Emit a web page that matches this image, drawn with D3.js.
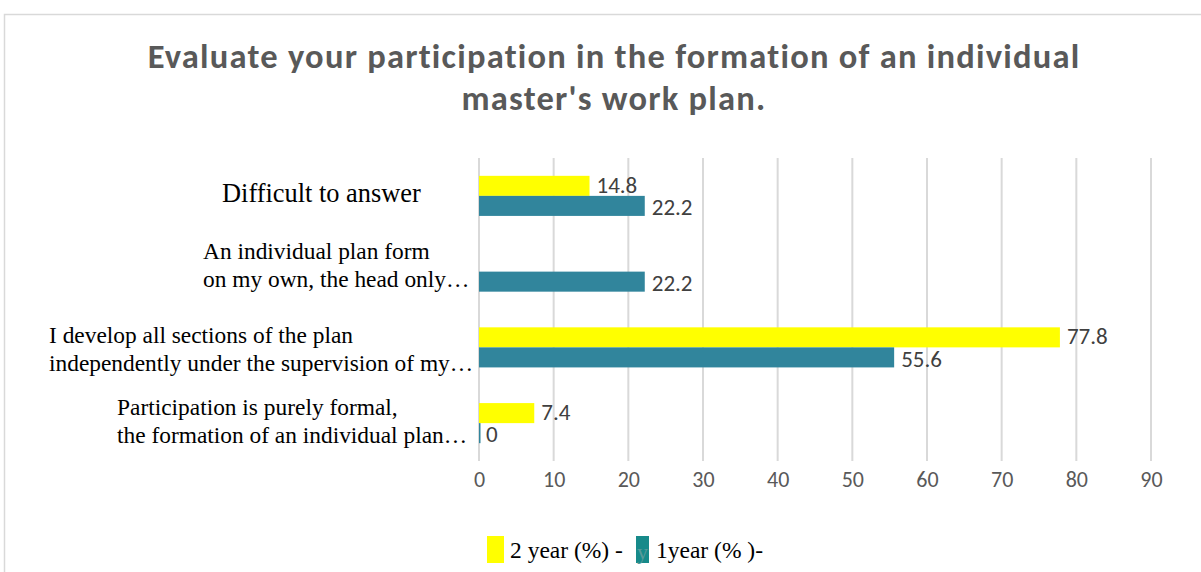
<!DOCTYPE html>
<html><head><meta charset="utf-8">
<script src="https://cdn.jsdelivr.net/npm/d3@7"></script>
<style>html,body{margin:0;padding:0;background:#fff;}svg{display:block;}</style>
</head><body>
<svg id="chart" width="1201" height="572"></svg>
<script>
// ---- data ----
const categories = [
  "Difficult to answer",
  "An individual plan form\non my own, the head only…",
  "I develop all sections of the plan\nindependently under the supervision of my…",
  "Participation is purely formal,\nthe formation of an individual plan…"
];
const year2Values = [14.8, null, 77.8, 7.4];
const year1Values = [22.2, 22.2, 55.6, 0];
const seriesNames = ["2 year (%) - ", "1year (% )-"];
const tickValues = [0, 10, 20, 30, 40, 50, 60, 70, 80, 90];
const titleLines = ["Evaluate your participation in the formation of an individual", "master's work plan."];

// ---- layout ----
const W = 1201, H = 572;
const plot = {left: 479, right: 1151, top: 158, bottom: 461};
const labelLeft = [222, 203, 49, 117];
const labelSize = [26.4, 23.4, 23.4, 23.4];
const labelBaseOffset = [6, 1, 10, 5.5];
const colors = {y2: "#FFFF00", y1: "#31859C", grid: "#d9d9d9", text: "#595959", label: "#404040"};
const sansFont = "Carlito, Lato, 'Open Sans', sans-serif";
const serifFont = "'Liberation Serif','Times New Roman',serif";

const svg = d3.select("#chart");

// frame
svg.append("path").attr("d", `M4.5,${H} L4.5,14.5 L${W},14.5`).attr("fill","none").attr("stroke","#d9d9d9").attr("stroke-width",1.5);

// title (fit to reference width with letter-spacing)
const titleWidths = [932, 305];
const titleSize = 34.5;
svg.append("g").selectAll("text").data(titleLines).join("text")
  .attr("x", 614).attr("y", (d,i)=>68 + i*42)
  .attr("text-anchor","middle")
  .attr("font-family", sansFont).attr("font-weight","bold")
  .attr("font-size", titleSize).attr("fill", colors.text).text(d=>d)
  .each(function(d,i){
    const w = this.getComputedTextLength();
    const ls = Math.max(0, (titleWidths[i] - w) / d.length);
    d3.select(this).attr("letter-spacing", ls);
  });

const x = d3.scaleLinear().domain([0, 90]).range([plot.left, plot.right]);
const y = d3.scaleBand().domain(categories).range([plot.top, plot.bottom]).paddingInner(0).paddingOuter(0);
const sub = d3.scaleBand().domain(["y2","y1"]).range([0, y.bandwidth()]).paddingInner(0).paddingOuter(0.89);

// gridlines
svg.append("g").selectAll("line").data(tickValues).join("line")
  .attr("x1", d=>x(d)).attr("x2", d=>x(d))
  .attr("y1", plot.top).attr("y2", plot.bottom)
  .attr("stroke", colors.grid).attr("stroke-width", 2);

// x axis tick labels
const xAxis = d3.axisBottom(x).tickValues(tickValues).tickSize(0).tickPadding(0);
const ax = svg.append("g").attr("transform", `translate(0,${plot.bottom})`).call(xAxis);
ax.select(".domain").remove();
ax.selectAll("text").attr("font-family", sansFont)
  .attr("font-size", 22).attr("fill", colors.text).attr("dy", null).attr("y", 26);

// bars
const rows = categories.map((c,i)=>({c, y2: year2Values[i], y1: year1Values[i]}));
const g = svg.append("g");
["y2","y1"].forEach(k=>{
  const data = rows.filter(r=>r[k] !== null);
  g.selectAll(".bar-"+k).data(data).join("rect")
    .attr("class","bar-"+k)
    .attr("x", x(0)).attr("y", d=>y(d.c)+sub(k))
    .attr("width", d=>Math.max(x(d[k])-x(0), d[k]===0?1.5:0)).attr("height", sub.bandwidth())
    .attr("fill", colors[k]);
  g.selectAll(".lab-"+k).data(data).join("text")
    .attr("class","lab-"+k)
    .attr("x", d=>x(d[k]) + 7).attr("y", d=>y(d.c)+sub(k)+sub.bandwidth()/2)
    .attr("dy", k==="y2" ? "0.3em" : "0.4em")
    .attr("font-family", sansFont)
    .attr("font-size", 23).attr("fill", colors.label)
    .text(d=>d[k]);
});

// category labels
const cl = svg.append("g");
categories.forEach((c,i)=>{
  const lines = c.split("\n");
  const cy = y(c) + y.bandwidth()/2;
  const lh = 28;
  const t = cl.append("text").attr("font-family", serifFont)
    .attr("font-size", labelSize[i]).attr("fill","#000");
  lines.forEach((ln,j)=>{
    t.append("tspan").attr("x", labelLeft[i])
      .attr("y", cy + labelBaseOffset[i] + (j - (lines.length-1)/2)*lh)
      .text(ln);
  });
});

// legend
const lg = svg.append("g");
lg.append("rect").attr("x",487).attr("y",536).attr("width",17).attr("height",27).attr("fill",colors.y2);
lg.append("text").attr("x",510).attr("y",558).attr("font-family", serifFont)
  .attr("font-size",23.5).attr("fill","#000").text(seriesNames[0]);
lg.append("rect").attr("x",636).attr("y",536).attr("width",13).attr("height",27).attr("fill","#178A8A");
lg.append("text").attr("x",637).attr("y",559).attr("font-family", serifFont)
  .attr("font-size",22).attr("fill","#5a9a9a").text("y");
lg.append("text").attr("x",656).attr("y",558).attr("font-family", serifFont)
  .attr("font-size",23.5).attr("fill","#000").text(seriesNames[1]);
</script>
</body></html>
